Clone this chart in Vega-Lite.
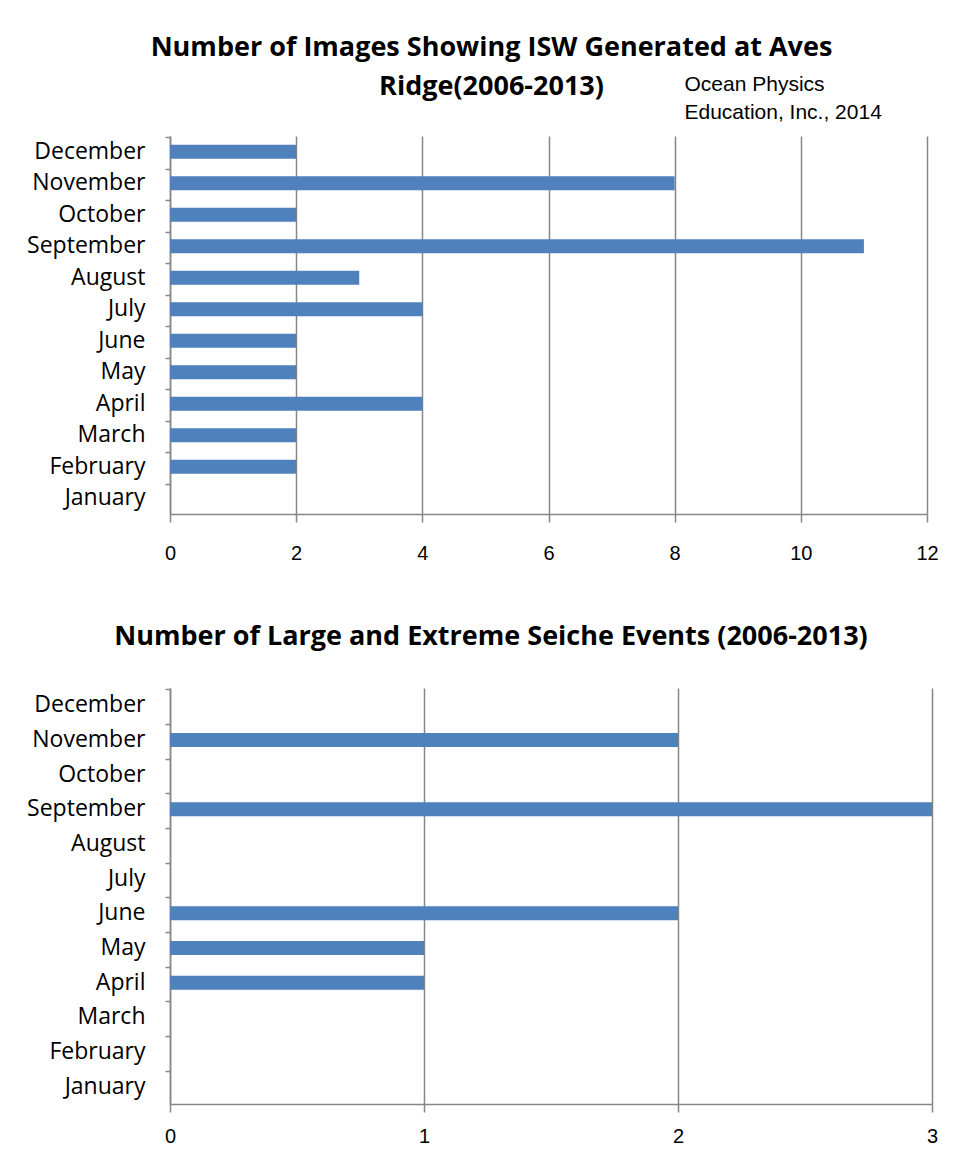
{
  "$schema": "https://vega.github.io/schema/vega-lite/v6.json",
  "padding": {"left": 10, "top": 34, "right": 20, "bottom": 10},
  "background": "white",
  "datasets": {
    "months": [
      {"month": "January", "isw": 0, "seiche": 0},
      {"month": "February", "isw": 2, "seiche": 0},
      {"month": "March", "isw": 2, "seiche": 0},
      {"month": "April", "isw": 4, "seiche": 1},
      {"month": "May", "isw": 2, "seiche": 1},
      {"month": "June", "isw": 2, "seiche": 2},
      {"month": "July", "isw": 4, "seiche": 0},
      {"month": "August", "isw": 3, "seiche": 0},
      {"month": "September", "isw": 11, "seiche": 3},
      {"month": "October", "isw": 2, "seiche": 0},
      {"month": "November", "isw": 8, "seiche": 2},
      {"month": "December", "isw": 2, "seiche": 0}
    ]
  },
  "config": {
    "view": {"stroke": null},
    "title": {"font": "Open Sans", "fontWeight": "bold", "fontSize": 27, "color": "black", "anchor": "middle"},
    "axis": {
      "domainColor": "#868686", "domainWidth": 1.5,
      "tickColor": "#868686", "tickWidth": 1.5,
      "gridColor": "#868686", "gridWidth": 1.5, "gridOpacity": 1
    },
    "axisX": {"labelFont": "Liberation Sans", "labelFontSize": 20, "labelColor": "black", "tickSize": 8, "labelPadding": 21, "labelFlush": false},
    "axisY": {"labelFont": "Open Sans", "labelFontSize": 23, "labelColor": "black", "tickSize": 5, "labelPadding": 20, "minExtent": 160, "maxExtent": 160, "grid": false}
  },
  "vconcat": [
    {
      "title": {"text": ["Number of Images Showing ISW Generated at Aves", "Ridge(2006-2013)"], "lineHeight": 39, "dx": -57, "offset": -28},
      "width": 757,
      "height": 378,
      "data": {"name": "months"},
      "mark": {"type": "bar", "color": "#4F81BD", "size": 14},
      "encoding": {
        "x": {"field": "isw", "type": "quantitative", "scale": {"domain": [0, 12], "nice": false}, "axis": {"values": [0, 2, 4, 6, 8, 10, 12], "title": null, "grid": true}},
        "y": {"field": "month", "type": "nominal",
          "sort": ["December", "November", "October", "September", "August", "July", "June", "May", "April", "March", "February", "January"],
          "axis": {"bandPosition": 0, "title": ["Ocean Physics", "Education, Inc., 2014"], "titleAngle": 0, "titleAlign": "left", "titleBaseline": "alphabetic", "titleX": 514, "titleY": -46, "titleFont": "Liberation Sans", "titleFontSize": 21, "titleFontWeight": "normal", "titleLineHeight": 28, "titleColor": "black"}}
      }
    },
    {
      "title": {"text": "Number of Large and Extreme Seiche Events (2006-2013)", "dx": -60, "offset": 37},
      "width": 762,
      "height": 416,
      "data": {"name": "months"},
      "mark": {"type": "bar", "color": "#4F81BD", "size": 14},
      "encoding": {
        "x": {"field": "seiche", "type": "quantitative", "scale": {"domain": [0, 3], "nice": false}, "axis": {"values": [0, 1, 2, 3], "title": null, "grid": true, "format": "d", "labelPadding": 14}},
        "y": {"field": "month", "type": "nominal",
          "sort": ["December", "November", "October", "September", "August", "July", "June", "May", "April", "March", "February", "January"],
          "axis": {"bandPosition": 0, "title": null}}
      }
    }
  ],
  "spacing": 60
}
